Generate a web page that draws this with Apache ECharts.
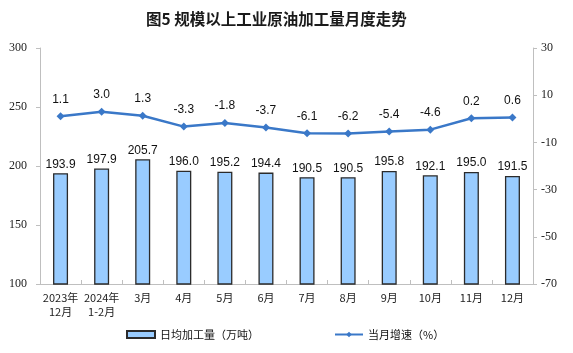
<!DOCTYPE html>
<html><head><meta charset="utf-8">
<script src="https://cdn.jsdelivr.net/npm/echarts@6/dist/echarts.min.js"></script>
<style>html,body{margin:0;padding:0;background:#fff}#c{width:573px;height:353px}</style>
</head><body><div id="c"></div>
<script>
const categories = ['2023年\n12月','2024年\n1-2月','3月','4月','5月','6月','7月','8月','9月','10月','11月','12月'];
const output = [193.9,197.9,205.7,196.0,195.2,194.4,190.5,190.5,195.8,192.1,195.0,191.5];
const growth = [1.1,3.0,1.3,-3.3,-1.8,-3.7,-6.1,-6.2,-5.4,-4.6,0.2,0.6];
const leftTicks = [100,300,50];
const rightTicks = [-70,30,20];
const barName = '日均加工量（万吨）';
const lineName = '当月增速（%）';

const chart = echarts.init(document.getElementById('c'));
const serif = '"Liberation Serif","Noto Sans CJK SC",serif';
const sans = '"Liberation Sans","Noto Sans CJK SC",sans-serif';
const cjk = '"Noto Sans CJK SC",sans-serif';
chart.setOption({
  animation:false,
  title:{text:'图5 规模以上工业原油加工量月度走势',left:141,top:6,
    textStyle:{fontFamily:cjk,fontSize:15.5,fontWeight:'bold',color:'#1a1a1a'}},
  legend:{top:324,left:121,itemGap:75,itemWidth:28,itemHeight:7,
    textStyle:{fontFamily:cjk,fontSize:11,color:'#111'},
    data:[{name:barName,icon:'rect'},{name:lineName}]},
  grid:{left:40,right:40,top:48,bottom:69},
  xAxis:{type:'category',data:categories,
    axisLine:{onZero:false,lineStyle:{color:'#BFBFBF'}},
    axisTick:{show:true,inside:true,length:4,lineStyle:{color:'#BFBFBF'}},
    axisLabel:{fontFamily:cjk,fontSize:11,color:'#222',interval:0,lineHeight:14,margin:7}},
  yAxis:[
    {type:'value',min:leftTicks[0],max:leftTicks[1],interval:leftTicks[2],
      splitLine:{show:false},
      axisLine:{show:true,lineStyle:{color:'#BFBFBF'}},
      axisTick:{show:true,length:4,lineStyle:{color:'#BFBFBF'}},
      axisLabel:{fontFamily:serif,fontSize:12,color:'#222',margin:13}},
    {type:'value',min:rightTicks[0],max:rightTicks[1],interval:rightTicks[2],
      splitLine:{show:false},
      axisLine:{show:true,lineStyle:{color:'#BFBFBF'}},
      axisTick:{show:true,length:4,lineStyle:{color:'#BFBFBF'}},
      axisLabel:{fontFamily:serif,fontSize:12,color:'#222',margin:8}}
  ],
  series:[
    {name:barName,type:'bar',data:output,barWidth:15,
      itemStyle:{color:'#99CCFF',borderColor:'#2b2b2b',borderWidth:1.3},
      label:{show:true,position:'top',formatter:p=>p.value.toFixed(1),
        fontFamily:sans,fontSize:12,color:'#111',distance:3}},
    {name:lineName,type:'line',yAxisIndex:1,data:growth,
      symbol:'diamond',symbolSize:8,
      lineStyle:{color:'#3A78C8',width:2.5},itemStyle:{color:'#3A78C8'},
      label:{show:true,position:'top',formatter:p=>p.value.toFixed(1),
        fontFamily:sans,fontSize:12,color:'#111',distance:7}}
  ]
});
</script></body></html>
